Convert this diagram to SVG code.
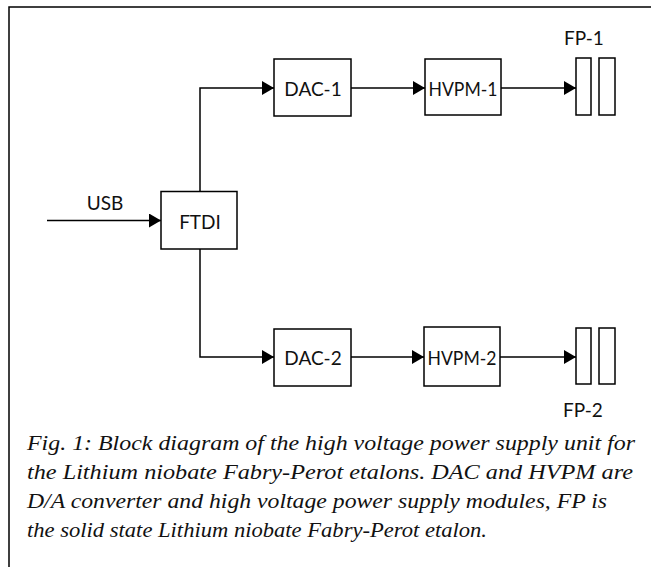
<svg xmlns="http://www.w3.org/2000/svg" width="651" height="567" viewBox="0 0 651 567">
<style>
.box{fill:#fff;stroke:#000;stroke-width:1.5}
.lbl{font-family:Lato,"Liberation Sans",sans-serif;font-size:19px;fill:#111;text-anchor:middle}
.wire{fill:none;stroke:#000;stroke-width:1.5}
.cap{font-family:"Liberation Serif",serif;font-style:italic;font-size:21.5px;fill:#111}
</style>
<defs>
<marker id="ah" markerUnits="userSpaceOnUse" markerWidth="12" markerHeight="14" refX="12" refY="7" orient="auto">
<path d="M0,0 L12,7 L0,14 Z" fill="#000"/>
</marker>
</defs>
<rect width="651" height="567" fill="#fff"/>
<g id="frame" fill="none" stroke="#000" stroke-width="1.5">
<path d="M9,567 V7 H651"/>
</g>
<g id="connectors">
<path class="wire" d="M47,220.5 H161" marker-end="url(#ah)"/>
<path class="wire" d="M200,191 V88 H274" marker-end="url(#ah)"/>
<path class="wire" d="M200,249 V357 H274" marker-end="url(#ah)"/>
<path class="wire" d="M351,88 H425" marker-end="url(#ah)"/>
<path class="wire" d="M501,88 H576" stroke-width="2" marker-end="url(#ah)"/>
<path class="wire" d="M351,357 H424" stroke-width="2" marker-end="url(#ah)"/>
<path class="wire" d="M500,357 H576" marker-end="url(#ah)"/>
</g>
<g id="usb-label"><text class="lbl" x="105" y="210">USB</text></g>
<g id="ftdi"><rect class="box" x="161" y="191.5" width="76" height="57.5"/><text class="lbl" x="200" y="229">FTDI</text></g>
<g id="dac1"><rect class="box" x="274" y="59" width="77" height="57"/><text class="lbl" x="313" y="96">DAC-1</text></g>
<g id="hvpm1"><rect class="box" x="425" y="59" width="76" height="56"/><text class="lbl" x="463" y="96" textLength="69" lengthAdjust="spacingAndGlyphs">HVPM-1</text></g>
<g id="fp1"><rect class="box" x="576" y="58" width="15" height="57"/><rect class="box" x="599" y="58" width="16" height="57"/><text class="lbl" x="584" y="45">FP-1</text></g>
<g id="dac2"><rect class="box" x="274" y="329" width="77" height="57"/><text class="lbl" x="313" y="365">DAC-2</text></g>
<g id="hvpm2"><rect class="box" x="424" y="327" width="76" height="59"/><text class="lbl" x="462" y="365" textLength="69" lengthAdjust="spacingAndGlyphs">HVPM-2</text></g>
<g id="fp2"><rect class="box" x="576" y="328" width="15" height="56"/><rect class="box" x="599" y="328" width="16" height="56"/><text class="lbl" x="583" y="417">FP-2</text></g>
<g id="caption">
<text class="cap" x="27" y="450" textLength="608" lengthAdjust="spacingAndGlyphs">Fig. 1: Block diagram of the high voltage power supply unit for</text>
<text class="cap" x="27" y="479" textLength="606" lengthAdjust="spacingAndGlyphs">the Lithium niobate Fabry-Perot etalons. DAC and HVPM are</text>
<text class="cap" x="27" y="508" textLength="580" lengthAdjust="spacingAndGlyphs">D/A converter and high voltage power supply modules, FP is</text>
<text class="cap" x="27" y="537" textLength="460" lengthAdjust="spacingAndGlyphs">the solid state Lithium niobate Fabry-Perot etalon.</text>
</g>
</svg>
